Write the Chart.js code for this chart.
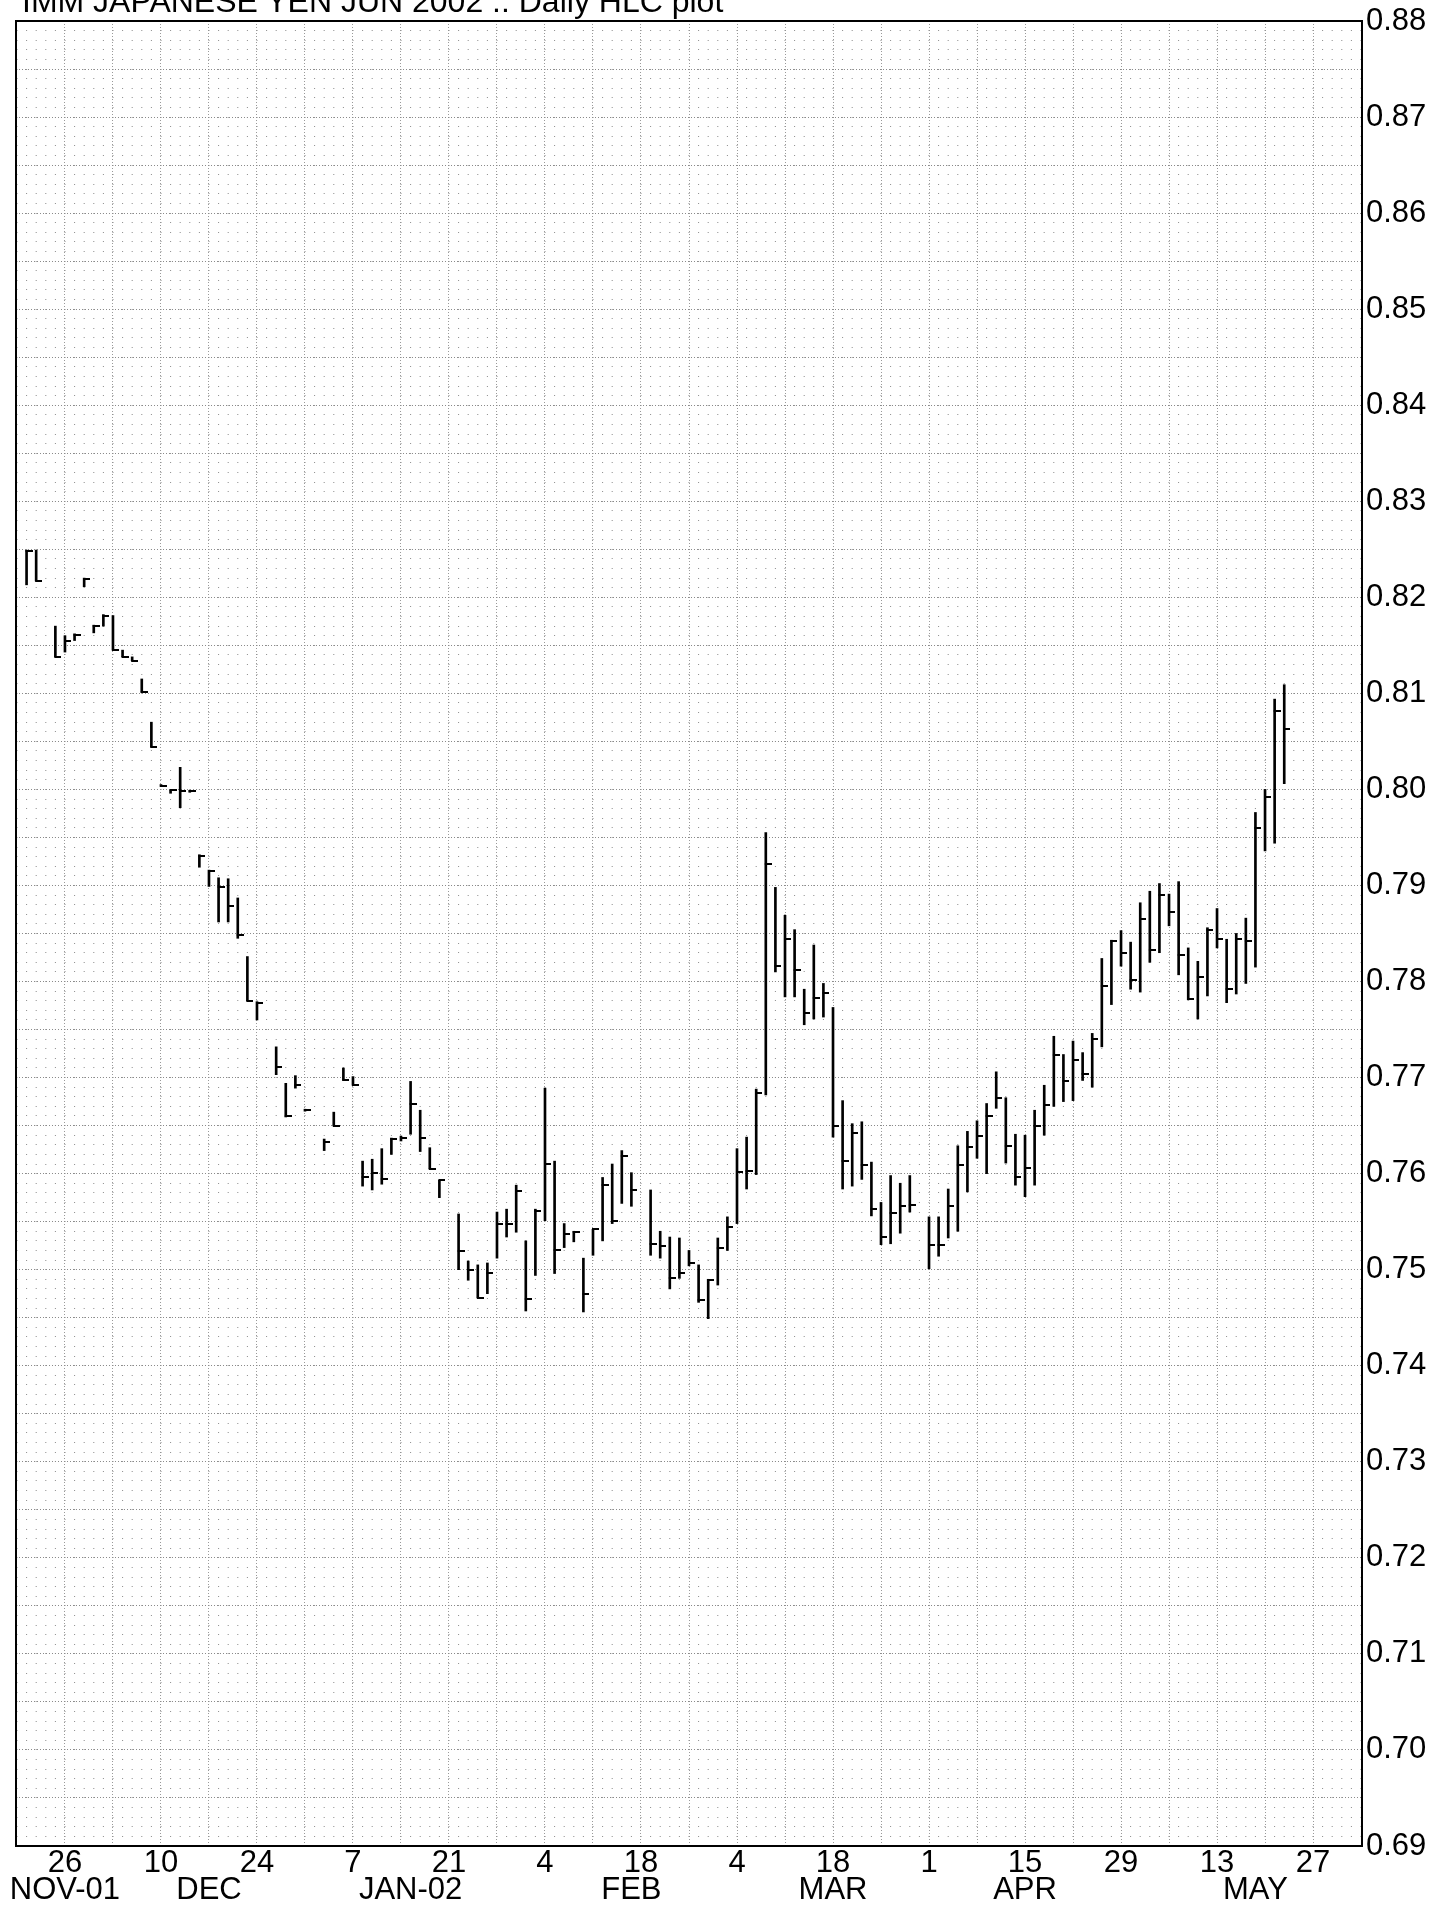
<!DOCTYPE html>
<html>
<head>
<meta charset="utf-8">
<title>IMM JAPANESE YEN JUN 2002 - Daily HLC plot</title>
<script src="https://cdn.jsdelivr.net/npm/chart.js@4.4.1/dist/chart.umd.min.js"></script>
<style>
  html, body { margin: 0; padding: 0; background: #fff; overflow: hidden; }
  #wrap { position: relative; width: 1450px; height: 1911px; }
  #hlcChart { position: absolute; left: 0; top: 0; }
  #title {
    position: absolute; left: 22px; top: -15px;
    font: 32px/1 'Liberation Sans', Arial, sans-serif;
    color: #000; white-space: nowrap;
  }
</style>
</head>
<body>
<div id="wrap">
  <canvas id="hlcChart" width="1450" height="1911"></canvas>
  <div id="title">IMM JAPANESE YEN JUN 2002 .: Daily HLC plot</div>
</div>
<script>
// Trading days (holidays left out) and their high / low / close
const dates = [
  '2001-11-20','2001-11-21','2001-11-23','2001-11-26','2001-11-27','2001-11-28','2001-11-29','2001-11-30',
  '2001-12-03','2001-12-04','2001-12-05','2001-12-06','2001-12-07',
  '2001-12-10','2001-12-11','2001-12-12','2001-12-13','2001-12-14',
  '2001-12-17','2001-12-18','2001-12-19','2001-12-20','2001-12-21',
  '2001-12-24','2001-12-26','2001-12-27','2001-12-28',
  '2001-12-31','2002-01-02','2002-01-03','2002-01-04',
  '2002-01-07','2002-01-08','2002-01-09','2002-01-10','2002-01-11',
  '2002-01-14','2002-01-15','2002-01-16','2002-01-17','2002-01-18',
  '2002-01-22','2002-01-23','2002-01-24','2002-01-25',
  '2002-01-28','2002-01-29','2002-01-30','2002-01-31','2002-02-01',
  '2002-02-04','2002-02-05','2002-02-06','2002-02-07','2002-02-08',
  '2002-02-11','2002-02-12','2002-02-13','2002-02-14','2002-02-15',
  '2002-02-19','2002-02-20','2002-02-21','2002-02-22',
  '2002-02-25','2002-02-26','2002-02-27','2002-02-28','2002-03-01',
  '2002-03-04','2002-03-05','2002-03-06','2002-03-07','2002-03-08',
  '2002-03-11','2002-03-12','2002-03-13','2002-03-14','2002-03-15',
  '2002-03-18','2002-03-19','2002-03-20','2002-03-21','2002-03-22',
  '2002-03-25','2002-03-26','2002-03-27','2002-03-28',
  '2002-04-01','2002-04-02','2002-04-03','2002-04-04','2002-04-05',
  '2002-04-08','2002-04-09','2002-04-10','2002-04-11','2002-04-12',
  '2002-04-15','2002-04-16','2002-04-17','2002-04-18','2002-04-19',
  '2002-04-22','2002-04-23','2002-04-24','2002-04-25','2002-04-26',
  '2002-04-29','2002-04-30','2002-05-01','2002-05-02','2002-05-03',
  '2002-05-06','2002-05-07','2002-05-08','2002-05-09','2002-05-10',
  '2002-05-13','2002-05-14','2002-05-15','2002-05-16','2002-05-17',
  '2002-05-20','2002-05-21','2002-05-22'
];

const highs = [
  0.8249,0.8249,0.8170,0.8160,0.8162,0.8220,0.8171,0.8182,
  0.8181,0.8145,0.8138,0.8115,0.8070,
  0.8004,0.7999,0.8023,0.7998,0.7932,
  0.7916,0.7908,0.7907,0.7887,0.7826,
  0.7779,0.7732,0.7694,0.7702,
  0.7666,0.7636,0.7664,0.7710,
  0.7701,0.7613,0.7615,0.7626,0.7637,
  0.7639,0.7696,0.7666,0.7627,0.7593,
  0.7558,0.7509,0.7505,0.7507,
  0.7560,0.7563,0.7588,0.7530,0.7563,
  0.7689,0.7613,0.7548,0.7540,0.7512,
  0.7542,0.7596,0.7610,0.7624,0.7601,
  0.7583,0.7540,0.7534,0.7533,
  0.7520,0.7505,0.7490,0.7533,0.7555,
  0.7626,0.7638,0.7688,0.7955,0.7898,
  0.7869,0.7854,0.7792,0.7838,0.7798,
  0.7773,0.7676,0.7652,0.7654,0.7612,
  0.7570,0.7598,0.7590,0.7598,
  0.7555,0.7555,0.7584,0.7629,0.7644,
  0.7655,0.7673,0.7706,0.7679,0.7641,
  0.7640,0.7666,0.7692,0.7743,0.7724,
  0.7738,0.7726,0.7746,0.7824,0.7843,
  0.7853,0.7841,0.7882,0.7894,0.7902,
  0.7891,0.7904,0.7835,0.7821,0.7856,
  0.7876,0.7844,0.7850,0.7866,0.7976,
  0.8000,0.8094,0.8109
];

const lows = [
  0.8213,0.8217,0.8138,0.8143,0.8155,0.8211,0.8163,0.8170,
  0.8145,0.8138,0.8134,0.8101,0.8044,
  0.8003,0.7996,0.7981,0.7997,0.7919,
  0.7899,0.7862,0.7862,0.7845,0.7780,
  0.7760,0.7703,0.7659,0.7689,
  0.7665,0.7624,0.7650,0.7697,
  0.7692,0.7587,0.7583,0.7589,0.7620,
  0.7634,0.7641,0.7623,0.7605,0.7575,
  0.7500,0.7489,0.7471,0.7475,
  0.7512,0.7534,0.7539,0.7457,0.7494,
  0.7551,0.7496,0.7523,0.7529,0.7456,
  0.7515,0.7530,0.7548,0.7569,0.7566,
  0.7515,0.7512,0.7480,0.7491,
  0.7504,0.7466,0.7449,0.7484,0.7520,
  0.7548,0.7584,0.7599,0.7682,0.7810,
  0.7784,0.7784,0.7755,0.7761,0.7763,
  0.7638,0.7584,0.7587,0.7594,0.7556,
  0.7526,0.7527,0.7538,0.7560,
  0.7501,0.7514,0.7533,0.7540,0.7581,
  0.7616,0.7600,0.7668,0.7611,0.7588,
  0.7576,0.7588,0.7640,0.7670,0.7675,
  0.7676,0.7697,0.7690,0.7732,0.7776,
  0.7816,0.7792,0.7789,0.7820,0.7830,
  0.7858,0.7807,0.7781,0.7761,0.7785,
  0.7835,0.7778,0.7787,0.7798,0.7815,
  0.7936,0.7944,0.8006
];

const closes = [
  0.8248,0.8217,0.8138,0.8155,0.8161,0.8219,0.8170,0.8181,
  0.8145,0.8138,0.8134,0.8101,0.8044,
  0.8004,0.7999,0.7998,0.7998,0.7931,
  0.7915,0.7898,0.7879,0.7848,0.7780,
  0.7778,0.7711,0.7660,0.7692,
  0.7666,0.7633,0.7650,0.7697,
  0.7692,0.7596,0.7601,0.7594,0.7636,
  0.7637,0.7672,0.7637,0.7605,0.7593,
  0.7519,0.7500,0.7471,0.7497,
  0.7548,0.7548,0.7582,0.7470,0.7561,
  0.7610,0.7521,0.7537,0.7539,0.7475,
  0.7542,0.7588,0.7551,0.7618,0.7583,
  0.7527,0.7525,0.7491,0.7497,
  0.7507,0.7468,0.7489,0.7523,0.7544,
  0.7602,0.7603,0.7684,0.7922,0.7816,
  0.7844,0.7812,0.7767,0.7783,0.7788,
  0.7650,0.7613,0.7642,0.7609,0.7563,
  0.7534,0.7559,0.7566,0.7567,
  0.7526,0.7526,0.7566,0.7609,0.7628,
  0.7639,0.7660,0.7679,0.7629,0.7596,
  0.7606,0.7650,0.7671,0.7724,0.7696,
  0.7718,0.7704,0.7740,0.7795,0.7842,
  0.7830,0.7802,0.7865,0.7833,0.7890,
  0.7872,0.7828,0.7782,0.7805,0.7854,
  0.7844,0.7792,0.7844,0.7842,0.7960,
  0.7992,0.8082,0.8063
];

// Axis labels: day numbers every second Monday, month names under them
const dayTickLabels = ['26','10','24','7','21','4','18','4','18','1','15','29','13','27'];
const monthTickLabels = ['NOV-01','DEC','JAN-02','FEB','MAR','APR','MAY'];
const monthTickDates = ['2001-11-26','2001-12-17','2002-01-15','2002-02-15','2002-03-18','2002-04-15','2002-05-17'];

// x position = count of weekdays from Monday 26 Nov 2001
function weekdayIndex(s) {
    const [y, m, d] = s.split('-').map(Number);
    const days = Math.round((Date.UTC(y, m - 1, d) - Date.UTC(2001, 10, 26)) / 86400000);
    const weeks = Math.floor(days / 7);
    return weeks * 5 + (days - weeks * 7);
}

const xIndex = dates.map(weekdayIndex);
const X_MIN = -5.1, X_MAX = 135.1;
const Y_MIN = 0.69, Y_MAX = 0.88;

const mondayTicks = [];
for (let v = -5; v <= 135; v += 5) mondayTicks.push(v);
const halfCentTicks = [];
for (let v = 690; v <= 880; v += 5) halfCentTicks.push(v / 1000);
const milTicks = [];
for (let v = 690; v <= 880; v += 1) milTicks.push(v / 1000);

// close tick: little canvas, only the right half is inked
const closeTick = document.createElement('canvas');
closeTick.width = 12;
closeTick.height = 2;
const tctx = closeTick.getContext('2d');
tctx.fillStyle = '#000';
tctx.fillRect(5, 0, 7, 2);

const FONT = { family: "'Liberation Sans', Arial, sans-serif", size: 31, lineHeight: 1 };

const frame = {
    id: 'frame',
    beforeDatasetsDraw(chart) {
        const { ctx, chartArea: a } = chart;
        ctx.save();
        ctx.strokeStyle = '#000';
        ctx.lineWidth = 2;
        ctx.strokeRect(a.left, a.top, a.right - a.left, a.bottom - a.top);
        ctx.restore();
    }
};

new Chart(document.getElementById('hlcChart').getContext('2d'), {
    type: 'scatter',
    data: {
        datasets: [{
            type: 'bar',
            label: 'High-Low',
            data: xIndex.map((x, i) => ({ x: x, y: [lows[i], highs[i]] })),
            xAxisID: 'x',
            yAxisID: 'y',
            backgroundColor: '#000',
            borderWidth: 0,
            barThickness: 2,
            minBarLength: 2,
            grouped: false
        }, {
            type: 'scatter',
            label: 'Close',
            data: xIndex.map((x, i) => ({ x: x, y: closes[i] })),
            xAxisID: 'x',
            yAxisID: 'y',
            pointStyle: closeTick,
            pointRadius: 3,
            pointHoverRadius: 3
        }]
    },
    options: {
        responsive: false,
        animation: false,
        devicePixelRatio: 1,
        events: [],
        layout: { padding: { left: 16, top: 21, right: 0, bottom: 0 } },
        plugins: {
            legend: { display: false },
            tooltip: { enabled: false },
            title: { display: false }
        },
        scales: {
            x: {
                type: 'linear', position: 'bottom', weight: 0,
                min: X_MIN, max: X_MAX, offset: false,
                afterBuildTicks: ax => { ax.ticks = mondayTicks.map(v => ({ value: v })); },
                grid: { color: '#9a9a9a', lineWidth: 1, drawTicks: false, offset: false },
                border: { display: false, dash: [1, 2] },
                ticks: {
                    autoSkip: false, maxRotation: 0, padding: 2, color: '#000', font: FONT,
                    callback: v => (v >= 0 && v % 10 === 0) ? dayTickLabels[v / 10] : ''
                },
                afterFit: ax => { ax.height = 28; }
            },
            xm: {
                type: 'linear', position: 'bottom', weight: 1,
                min: X_MIN, max: X_MAX, offset: false,
                afterBuildTicks: ax => { ax.ticks = monthTickDates.map(d => ({ value: weekdayIndex(d) })); },
                grid: { display: false, drawTicks: false },
                border: { display: false },
                ticks: {
                    autoSkip: false, maxRotation: 0, padding: 1, color: '#000', font: FONT,
                    callback: (v, i) => monthTickLabels[i]
                },
                afterFit: ax => { ax.height = 37; }
            },
            y: {
                type: 'linear', position: 'right',
                min: Y_MIN, max: Y_MAX, beginAtZero: false,
                afterBuildTicks: ax => { ax.ticks = halfCentTicks.map(v => ({ value: v })); },
                grid: { color: '#8a8a8a', lineWidth: 1, drawTicks: false },
                border: { display: false, dash: [1, 2] },
                ticks: {
                    autoSkip: false, padding: 4, color: '#000', font: FONT,
                    callback: v => (Math.round(v * 1000) % 10 === 0) ? v.toFixed(2) : ''
                },
                afterFit: ax => { ax.width = 88; }
            },
            // fine dot matrix: one dot per trading day on every 0.001
            yd: {
                type: 'linear', position: 'left',
                min: Y_MIN, max: Y_MAX, beginAtZero: false,
                afterBuildTicks: ax => { ax.ticks = milTicks.map(v => ({ value: v })); },
                grid: { color: '#8c8c8c', lineWidth: 1, drawTicks: false },
                border: { display: false, dash: [1, 8.6], dashOffset: -0.5 },
                ticks: { display: false },
                afterFit: ax => { ax.width = 0; }
            }
        }
    },
    plugins: [frame]
});
</script>
</body>
</html>
